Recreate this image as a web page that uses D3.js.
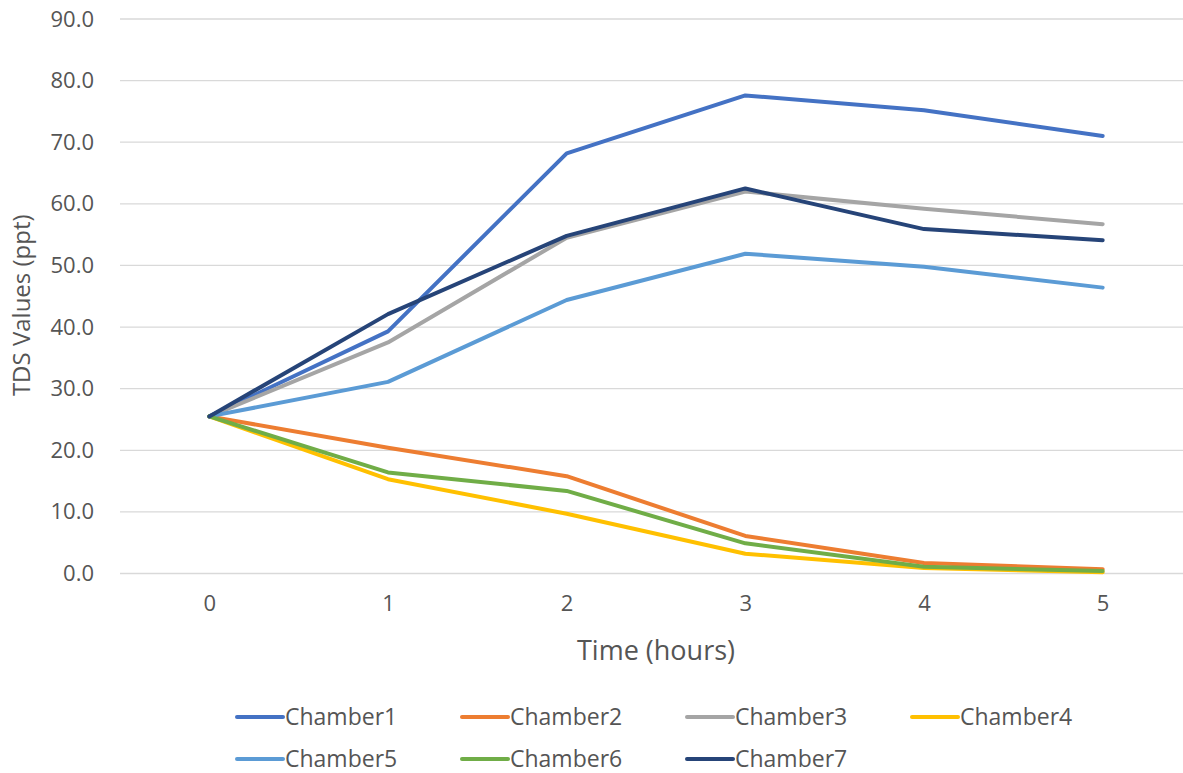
<!DOCTYPE html>
<html>
<head>
<meta charset="utf-8">
<script src="https://cdn.jsdelivr.net/npm/d3@7"></script>
<style>
  html, body { margin: 0; padding: 0; background: #fff; }
  svg { display: block; font-family: "Open Sans", sans-serif; }
</style>
</head>
<body>
<svg id="chart" width="1183" height="773"></svg>
<script>
// Time points (hours)
const hours = [0, 1, 2, 3, 4, 5];
// TDS readings (ppt) per chamber
const chamber1 = [25.5, 39.3, 68.2, 77.6, 75.2, 71.0];
const chamber2 = [25.5, 20.4, 15.8, 6.1, 1.7, 0.7];
const chamber3 = [25.5, 37.5, 54.5, 62.0, 59.2, 56.7];
const chamber4 = [25.5, 15.3, 9.7, 3.2, 0.9, 0.2];
const chamber5 = [25.5, 31.1, 44.4, 51.9, 49.8, 46.4];
const chamber6 = [25.5, 16.4, 13.4, 4.9, 1.1, 0.4];
const chamber7 = [25.5, 42.1, 54.8, 62.5, 55.9, 54.1];
const seriesNames = ["Chamber1", "Chamber2", "Chamber3", "Chamber4", "Chamber5", "Chamber6", "Chamber7"];
const yTicks = [0, 10, 20, 30, 40, 50, 60, 70, 80, 90];

const seriesValues = [chamber1, chamber2, chamber3, chamber4, chamber5, chamber6, chamber7];
const colors = ["#4472C4", "#ED7D31", "#A5A5A5", "#FFC000", "#5B9BD5", "#70AD47", "#264478"];

const svg = d3.select("#chart");
const plot = { left: 120, right: 1192, top: 19, bottom: 573.5 };
const textColor = "#555555";

const x = d3.scalePoint().domain(hours).range([plot.left, plot.right]).padding(0.5);
const y = d3.scaleLinear().domain([0, 90]).range([plot.bottom, plot.top]);

// Horizontal gridlines
svg.append("g").selectAll("line").data(yTicks).join("line")
  .attr("x1", plot.left).attr("x2", plot.right)
  .attr("y1", d => y(d)).attr("y2", d => y(d))
  .attr("stroke", "#d9d9d9").attr("stroke-width", 1.3);

// Y axis labels
const yAxis = svg.append("g").attr("transform", `translate(${plot.left - 26},0)`)
  .call(d3.axisLeft(y).tickValues(yTicks).tickFormat(d3.format(".1f")).tickSize(0).tickPadding(0));
yAxis.select(".domain").remove();
yAxis.selectAll("text").attr("font-size", 22).attr("fill", textColor)
  .attr("font-family", "Open Sans, sans-serif");

// X axis labels
const xAxis = svg.append("g").attr("transform", `translate(0,${plot.bottom + 22})`)
  .call(d3.axisBottom(x).tickSize(0).tickPadding(0));
xAxis.select(".domain").remove();
xAxis.selectAll("text").attr("font-size", 22).attr("fill", textColor)
  .attr("font-family", "Open Sans, sans-serif");

// Axis titles
svg.append("text")
  .attr("transform", `translate(30,${(plot.top + plot.bottom) / 2 + 9}) rotate(-90)`)
  .attr("text-anchor", "middle").attr("font-size", 24).attr("fill", textColor)
  .text("TDS Values (ppt)");
svg.append("text")
  .attr("x", 656).attr("y", 660)
  .attr("text-anchor", "middle").attr("font-size", 27).attr("fill", textColor)
  .text("Time (hours)");

// Lines
const line = d3.line().x((d, i) => x(hours[i])).y(d => y(d));
svg.append("g").selectAll("path").data(seriesValues).join("path")
  .attr("d", d => line(d))
  .attr("fill", "none")
  .attr("stroke", (d, i) => colors[i])
  .attr("stroke-width", 4)
  .attr("stroke-linejoin", "round")
  .attr("stroke-linecap", "round");

// Legend
const legend = svg.append("g");
const items = legend.selectAll("g").data(seriesNames).join("g")
  .attr("transform", (d, i) => `translate(${237 + (i % 4) * 225},${i < 4 ? 717 : 759})`);
items.append("line")
  .attr("x1", 0).attr("x2", 46).attr("y1", 0).attr("y2", 0)
  .attr("stroke", (d, i) => colors[i]).attr("stroke-width", 4).attr("stroke-linecap", "round");
items.append("text")
  .attr("x", 48).attr("y", 0).attr("dy", "0.35em")
  .attr("font-size", 23).attr("fill", textColor)
  .text(d => d);
</script>
</body>
</html>
